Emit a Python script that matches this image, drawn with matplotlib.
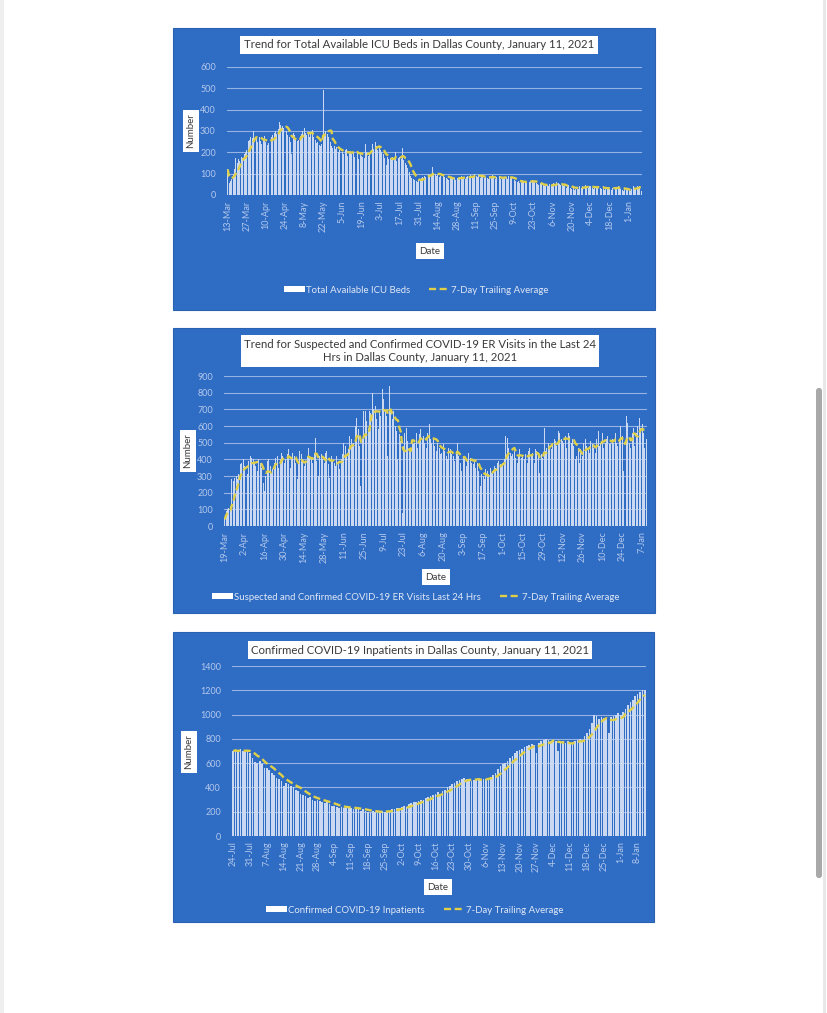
import matplotlib
matplotlib.use("Agg")
import matplotlib.pyplot as plt
from matplotlib.patches import Rectangle, FancyBboxPatch
from matplotlib.lines import Line2D
import numpy as np
import pandas as pd

W, H = 828, 1013

# ---- data ----
icu_start = "2020-03-13"
icu_beds = [
    120, 55, 65, 75, 100, 120, 175,
    150, 170, 160, 180, 175, 190, 200,
    210, 255, 260, 270, 265, 300, 280,
    265, 250, 270, 255, 240, 260, 275,
    250, 235, 245, 260, 270, 280, 290,
    300, 285, 310, 340, 330, 325, 315,
    320, 300, 280, 270, 250, 190, 290,
    280, 265, 255, 260, 275, 285, 300,
    315, 290, 280, 285, 270, 295, 305,
    270, 260, 245, 250, 235, 230, 240,
    490, 280, 300, 285, 270, 250, 230,
    220, 230, 215, 225, 200, 210, 195,
    200, 190, 210, 215, 185, 205, 195,
    190, 200, 180, 235, 205, 170, 190,
    185, 180, 175, 240, 200, 185, 195,
    230, 240, 215, 250, 230, 210, 220,
    210, 200, 190, 175, 140, 180, 170,
    175, 165, 180, 170, 200, 160, 175,
    180, 170, 220, 165, 150, 140, 125,
    110, 90, 80, 75, 70, 65, 60,
    70, 75, 80, 85, 90, 85, 95,
    100, 90, 95, 130, 95, 100, 90,
    95, 85, 90, 100, 95, 85, 80,
    75, 70, 80, 85, 75, 80, 70,
    80, 75, 85, 90, 80, 85, 75,
    85, 90, 80, 95, 85, 90, 100,
    90, 85, 95, 80, 90, 85, 80,
    85, 80, 75, 90, 85, 95, 80,
    75, 85, 80, 90, 75, 80, 85,
    80, 85, 75, 90, 80, 85, 75,
    70, 65, 60, 65, 55, 60, 70,
    60, 65, 55, 70, 60, 65, 70,
    65, 60, 55, 50, 45, 55, 50,
    45, 40, 50, 45, 40, 50, 45,
    50, 55, 45, 60, 55, 50, 45,
    45, 40, 50, 35, 40, 45, 35,
    30, 35, 25, 30, 35, 30, 40,
    35, 40, 30, 45, 40, 35, 40,
    40, 35, 30, 40, 35, 40, 30,
    35, 30, 40, 25, 30, 35, 30,
    30, 25, 35, 40, 30, 35, 40,
    35, 30, 25, 20, 30, 25, 30,
    25, 20, 30, 40, 35, 30, 40,
    35, 40, 20,
]

er_start = "2020-03-19"
er_visits = [
    40, 90, 100, 110, 120, 280, 270,
    290, 300, 280, 310, 370, 380, 400,
    360, 350, 310, 390, 420, 410, 400,
    380, 360, 330, 400, 380, 350, 260,
    210, 300, 390, 400, 360, 320, 340,
    380, 410, 420, 350, 400, 440, 420,
    380, 400, 430, 460, 350, 410, 440,
    420, 380, 280, 370, 450, 430, 400,
    360, 390, 420, 470, 410, 400, 380,
    440, 530, 390, 300, 420, 430, 400,
    380, 440, 450, 370, 290, 420, 390,
    380, 360, 420, 390, 340, 400, 430,
    500, 480, 420, 460, 540, 520, 480,
    500, 600, 650, 580, 480, 240, 520,
    690, 690, 630, 590, 690, 680, 800,
    700, 720, 640, 580, 690, 660, 820,
    760, 690, 660, 420, 840, 700, 640,
    690, 600, 570, 400, 550, 510, 80,
    480, 560, 590, 510, 470, 460, 520,
    490, 500, 560, 470, 550, 580, 520,
    540, 500, 470, 560, 610, 520, 500,
    520, 480, 450, 500, 470, 430, 440,
    490, 450, 420, 400, 470, 460, 430,
    420, 390, 450, 500, 420, 380, 330,
    420, 400, 360, 390, 440, 410, 380,
    370, 400, 350, 380, 330, 240, 310,
    300, 280, 340, 330, 310, 350, 320,
    330, 360, 350, 380, 390, 370, 360,
    380, 400, 540, 530, 470, 440, 420,
    430, 450, 410, 380, 420, 460, 410,
    420, 400, 430, 380, 450, 470, 420,
    440, 380, 460, 450, 420, 320, 430,
    410, 590, 450, 470, 500, 480, 460,
    490, 520, 510, 480, 570, 560, 520,
    510, 500, 540, 470, 560, 540, 500,
    520, 480, 400, 420, 470, 380, 460,
    420, 500, 520, 480, 470, 440, 510,
    490, 470, 440, 520, 570, 480, 500,
    560, 470, 500, 520, 540, 490, 500,
    520, 500, 560, 500, 480, 520, 600,
    540, 330, 480, 660, 620, 500, 470,
    560, 590, 480, 560, 600, 650, 590,
    610, 560, 470, 520,
]

inp_start = "2020-07-24"
inpatients = [
    700, 710, 690, 720, 700, 690, 710,
    680, 640, 610, 600, 620, 590, 560,
    560, 540, 520, 500, 480, 470, 450,
    410, 440, 430, 410, 400, 380, 370,
    350, 340, 330, 310, 320, 300, 290,
    300, 290, 280, 270, 280, 260, 250,
    250, 240, 230, 240, 230, 240, 230,
    230, 220, 230, 220, 210, 220, 210,
    200, 190, 210, 200, 190, 200, 210,
    200, 210, 210, 220, 220, 230, 230,
    240, 250, 240, 260, 270, 280, 280,
    290, 300, 300, 310, 320, 330, 340,
    350, 360, 350, 370, 380, 400, 410,
    430, 440, 450, 460, 470, 480, 470,
    460, 450, 460, 470, 480, 460, 470,
    470, 480, 490, 500, 520, 550, 580,
    590, 600, 620, 640, 660, 680, 700,
    710, 720, 730, 740, 750, 760, 750,
    680, 770, 780, 790, 800, 790, 780,
    790, 780, 700, 770, 780, 770, 780,
    770, 760, 780, 790, 800, 780, 820,
    850, 880, 930, 1000, 990, 960, 980,
    970, 960, 850, 980, 990, 1000, 1010,
    1000, 1020, 1050, 1080, 1100, 1120, 1150,
    1170, 1190, 1200, 1200,
]

BLUE = "#2f6cc4"
GRID = "#95b4e4"
TICK = "#b4c9ec"
BAR = "#cad9f1"
AVG = "#e0cf48"
DARK = "#3a3a3a"
FONT = "Lato"


def fx(x):
    return x / W


def fy(y):
    return 1 - y / H


def draw_panel(fig, box, plot, start, vals, ymax, ystep, tick_every,
               title, bar_label, title_xy, num_xy, date_xy, leg_xy):
    # panel background
    bx0, by0, bx1, by1 = box
    fig.patches.append(Rectangle((fx(bx0), fy(by1)), fx(bx1 - bx0), (by1 - by0) / H,
                                 transform=fig.transFigure, facecolor=BLUE,
                                 edgecolor="#2a62b3", lw=0.8, zorder=-5))
    x0, y0, x1, y1 = plot
    ax = fig.add_axes([fx(x0), fy(y1), fx(x1 - x0), (y1 - y0) / H])
    ax.set_facecolor("none")
    ax.set_zorder(2)

    s = pd.Series(vals, dtype=float)
    avg = s.rolling(7, min_periods=1).mean()
    dates = pd.date_range(start, periods=len(s))
    x = np.arange(len(s))

    ax.bar(x, s, width=0.7, color=BAR, lw=0, zorder=2)
    ax.plot(x, avg, color=AVG, lw=1.7, ls=(0, (3, 1.5)), zorder=3)

    ax.set_xlim(-0.5, len(s) - 0.5)
    ax.set_ylim(0, ymax)
    ax.set_yticks(np.arange(0, ymax + 1, ystep))
    ax.yaxis.grid(True, color=GRID, lw=0.8, zorder=1)
    ax.set_axisbelow(True)
    ticks = x[::tick_every]
    ax.set_xticks(ticks)
    ax.set_xticklabels([f"{d.day}-{d.strftime('%b')}" for d in dates[::tick_every]],
                       rotation=90)
    ax.tick_params(axis="both", length=0, colors=TICK, labelsize=6.5)
    ax.tick_params(axis="y", pad=8)
    ax.tick_params(axis="x", pad=4)
    for lab in ax.get_xticklabels() + ax.get_yticklabels():
        lab.set_family(FONT)
    for sp in ax.spines.values():
        sp.set_visible(False)
    ax.axhline(0, color=GRID, lw=0.8, zorder=1)

    fig.text(fx(title_xy[0]), fy(title_xy[1]), title, ha="center", va="center",
             fontsize=8.2, color=DARK, family=FONT, linespacing=1.25,
             bbox=dict(boxstyle="square,pad=0.3", fc="white", ec="none"), zorder=5)
    fig.text(fx(num_xy[0]), fy(num_xy[1]), "Number", rotation=90, ha="center",
             va="center", fontsize=7, color=DARK, family=FONT,
             bbox=dict(boxstyle="square,pad=0.35", fc="white", ec="none"), zorder=5)
    fig.text(fx(date_xy[0]), fy(date_xy[1]), "Date", ha="center", va="center",
             fontsize=7, color=DARK, family=FONT,
             bbox=dict(boxstyle="square,pad=0.35", fc="white", ec="none"), zorder=5)

    handles = [Rectangle((0, 0), 1, 1, fc="white", ec="none"),
               Line2D([], [], color=AVG, lw=1.7, ls=(0, (3, 1.5)))]
    leg = fig.legend(handles, [bar_label, "7-Day Trailing Average"],
                     loc="center", bbox_to_anchor=(fx(leg_xy[0]), fy(leg_xy[1])),
                     ncol=2, frameon=False, labelcolor="#dfe8f6",
                     prop={"family": FONT, "size": 6.9},
                     handlelength=2.2, handleheight=0.6, handletextpad=0.1,
                     columnspacing=2.0)
    leg.set_zorder(5)
    return ax


fig = plt.figure(figsize=(W / 100, H / 100), dpi=100)
fig.patch.set_facecolor("white")

# page edges and scrollbar
fig.patches.append(Rectangle((0, 0), fx(4), 1, transform=fig.transFigure,
                             fc="#eeeeee", ec="none", zorder=-5))
fig.patches.append(Rectangle((fx(823), 0), fx(3), 1, transform=fig.transFigure,
                             fc="#e8e8e8", ec="none", zorder=-5))
fig.patches.append(FancyBboxPatch((fx(816), fy(878)), fx(6), (878 - 388) / H,
                                  boxstyle="round,pad=0,rounding_size=0.003",
                                  transform=fig.transFigure, fc="#a9a9a9",
                                  ec="none", zorder=-5))

draw_panel(fig, (173, 28, 655, 310), (227, 67, 642, 195), icu_start, icu_beds,
           600, 100, 14,
           "Trend for Total Available ICU Beds in Dallas County, January 11, 2021",
           "Total Available ICU Beds",
           (419, 45), (191, 131), (430, 251), (416, 290))

draw_panel(fig, (173, 328, 655, 613), (224, 376, 647, 526), er_start, er_visits,
           900, 100, 14,
           "Trend for Suspected and Confirmed COVID-19 ER Visits in the Last 24\n"
           "Hrs in Dallas County, January 11, 2021",
           "Suspected and Confirmed COVID-19 ER Visits Last 24 Hrs",
           (420, 351), (188, 451), (436, 577), (416, 597))

draw_panel(fig, (173, 632, 654, 922), (232, 666, 646, 836), inp_start, inpatients,
           1400, 200, 7,
           "Confirmed COVID-19 Inpatients in Dallas County, January 11, 2021",
           "Confirmed COVID-19 Inpatients",
           (420, 650), (189, 752), (438, 887), (415, 910))

fig.savefig("out.png", dpi=100, facecolor="white")
